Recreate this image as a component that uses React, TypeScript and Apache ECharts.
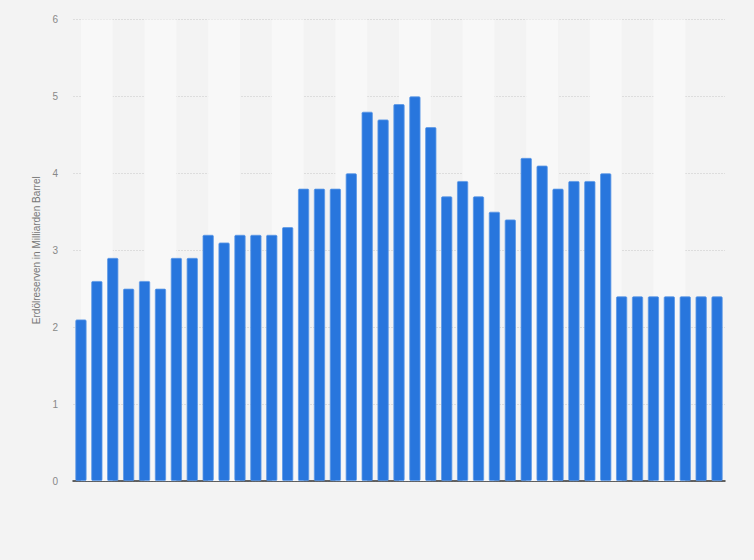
import React, { useEffect, useRef } from "react";
import * as echarts from "echarts";

const years = [
  "1980", "1981", "1982", "1983", "1984", "1985", "1986", "1987", "1988", "1989",
  "1990", "1991", "1992", "1993", "1994", "1995", "1996", "1997", "1998", "1999",
  "2000", "2001", "2002", "2003", "2004", "2005", "2006", "2007", "2008", "2009",
  "2010", "2011", "2012", "2013", "2014", "2015", "2016", "2017", "2018", "2019",
  "2020",
];

const reserves = [
  2.1, 2.6, 2.9, 2.5, 2.6, 2.5, 2.9, 2.9, 3.2, 3.1,
  3.2, 3.2, 3.2, 3.3, 3.8, 3.8, 3.8, 4.0, 4.8, 4.7,
  4.9, 5.0, 4.6, 3.7, 3.9, 3.7, 3.5, 3.4, 4.2, 4.1,
  3.8, 3.9, 3.9, 4.0, 2.4, 2.4, 2.4, 2.4, 2.4, 2.4,
  2.4,
];

const yTicks = [0, 1, 2, 3, 4, 5, 6];
const yTitle = "Erdölreserven in Milliarden Barrel";

export default function App() {
  const ref = useRef<HTMLDivElement>(null);

  useEffect(() => {
    if (!ref.current) return;
    const chart = echarts.init(ref.current, null, { renderer: "svg" });

    const bands: any[] = [];
    for (let i = 0; i + 2 < years.length; i += 4) {
      bands.push([{ xAxis: years[i] }, { xAxis: years[i + 2] }]);
    }

    chart.setOption({
      animation: false,
      backgroundColor: "#f3f3f3",
      grid: { left: 73, right: 29, top: 19.5, bottom: 79 },
      xAxis: {
        type: "category",
        data: years,
        axisLabel: { show: false },
        axisTick: { show: false },
        axisLine: { lineStyle: { color: "#333333", width: 1.5 } },
      },
      yAxis: {
        type: "value",
        min: yTicks[0],
        max: yTicks[yTicks.length - 1],
        interval: 1,
        name: yTitle,
        nameLocation: "middle",
        nameGap: 31,
        nameTextStyle: {
          color: "#777777",
          fontSize: 10,
          fontFamily: "Liberation Sans, Arial, sans-serif",
        },
        axisLabel: {
          color: "#888888",
          fontSize: 10,
          margin: 15,
          fontFamily: "Liberation Sans, Arial, sans-serif",
        },
        axisLine: { show: false },
        axisTick: { show: false },
        splitLine: {
          lineStyle: { color: "#dddddd", type: [2, 1], width: 1 },
        },
      },
      series: [
        {
          type: "line",
          data: [],
          silent: true,
          z: 0,
          markArea: {
            silent: true,
            itemStyle: { color: "#f8f8f8" },
            data: bands,
          },
        },
        {
          type: "bar",
          data: reserves,
          barCategoryGap: "30%",
          z: 3,
          itemStyle: {
            color: "#2876dd",
            borderColor: "#5c98e6",
            borderWidth: 0.8,
            borderRadius: 1,
          },
        },
      ],
    });

    return () => chart.dispose();
  }, []);

  return (
    <div
      ref={ref}
      style={{ position: "absolute", left: 0, top: 0, width: 754, height: 560 }}
    />
  );
}
